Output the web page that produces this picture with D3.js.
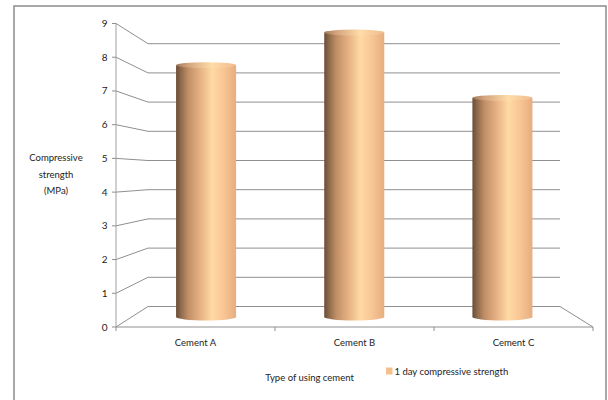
<!DOCTYPE html>
<html>
<head>
<meta charset="utf-8">
<script src="https://cdn.jsdelivr.net/npm/d3@7"></script>
<style>
  html, body { margin: 0; padding: 0; background: #fff; }
  svg { display: block; }
  text { font-family: Lato, "Open Sans", sans-serif; fill: #222; }
</style>
</head>
<body>
<svg id="chart" width="608" height="400"></svg>
<script>
// ---- data ----
const categories = ["Cement A", "Cement B", "Cement C"];
const strength1Day = [7.7, 8.7, 6.7];
const yTicks = [0, 1, 2, 3, 4, 5, 6, 7, 8, 9];
const seriesName = "1 day compressive strength";
const xTitle = "Type of using cement";
const yTitleLines = ["Compressive", "strength", "(MPa)"];

// ---- layout ----
const svg = d3.select("#chart");
const W = 608, H = 400;

// frame
svg.append("rect")
  .attr("x", 14).attr("y", 6).attr("width", 592).attr("height", 410)
  .attr("fill", "#fff").attr("stroke", "#8c8c8c").attr("stroke-width", 1.5);

// 3D box geometry
const frontX0 = 116, frontX1 = 593;
const backX0 = 148, backX1 = 560;
const yFront = d3.scaleLinear().domain([0, 9]).range([327, 23.5]);
const yBack  = d3.scaleLinear().domain([0, 9]).range([306.5, 43.7]);
const yMid   = d3.scaleLinear().domain([0, 9]).range([317, 22.7]);

const xFront = d3.scaleBand().domain(categories).range([frontX0, frontX1]);
const xMid = d3.scaleBand().domain(categories).range([(frontX0 + backX0) / 2, (frontX1 + backX1) / 2]);

// gradient for cylinders
const defs = svg.append("defs");
const grad = defs.append("linearGradient").attr("id", "cyl").attr("x1", "0").attr("x2", "1").attr("y1", "0").attr("y2", "0");
[[0, "#6b4c35"], [0.08, "#8e6a4c"], [0.2, "#c08e66"], [0.38, "#e3ad80"], [0.6, "#ffd9a3"], [0.78, "#f9c796"], [1, "#e7ad7e"]]
  .forEach(([o, c]) => grad.append("stop").attr("offset", o).attr("stop-color", c));
const gradTop = defs.append("linearGradient").attr("id", "cylTop").attr("x1", "0").attr("x2", "1").attr("y1", "0").attr("y2", "0");
[[0, "#a07a5a"], [0.2, "#d4a47c"], [0.6, "#ffdcaa"], [1, "#f0bb8c"]]
  .forEach(([o, c]) => gradTop.append("stop").attr("offset", o).attr("stop-color", c));

// gridlines: side wall + back wall
const grid = svg.append("g").attr("fill", "none").attr("stroke", "#8f8f8f").attr("stroke-width", 1);
yTicks.forEach(v => {
  grid.append("path")
    .attr("d", `M${frontX0},${yFront(v)}L${backX0},${yBack(v)}L${backX1},${yBack(v)}`);
});
// floor front edge and right edge
grid.append("path")
  .attr("d", `M${frontX0},${yFront(0)}L${frontX1},${yFront(0)}L${backX1},${yBack(0)}`);

// value axis
svg.append("line")
  .attr("x1", frontX0).attr("x2", frontX0)
  .attr("y1", yFront(0)).attr("y2", yFront(9))
  .attr("stroke", "#a0a0a0").attr("stroke-width", 1);
const yAx = svg.append("g");
yTicks.forEach(v => {
  yAx.append("line").attr("x1", frontX0 - 4).attr("x2", frontX0)
    .attr("y1", yFront(v)).attr("y2", yFront(v)).attr("stroke", "#8f8f8f");
  yAx.append("text").attr("x", 107.5).attr("y", yFront(v)).attr("dy", "0.35em")
    .attr("text-anchor", "end").attr("font-size", 10).text(v);
});

// category axis ticks and labels
const xTickPos = categories.map(c => xFront(c)).concat([frontX1]);
xTickPos.forEach(x => {
  svg.append("line").attr("x1", x).attr("x2", x)
    .attr("y1", yFront(0)).attr("y2", yFront(0) + 4).attr("stroke", "#8f8f8f");
});
categories.forEach(c => {
  svg.append("text").attr("x", xFront(c) + xFront.bandwidth() / 2).attr("y", 343)
    .attr("dy", "0.35em").attr("text-anchor", "middle").attr("font-size", 9.5).text(c);
});

// cylinders
const cylW = xMid.bandwidth() * 0.405;
const ryTop = 3, ryBot = 3.5;
const cyl = svg.append("g");
categories.forEach((c, i) => {
  const cx = xMid(c) + xMid.bandwidth() / 2;
  const x0 = cx - cylW / 2;
  const yt = yMid(strength1Day[i]);
  const yb = yMid(0);
  cyl.append("ellipse").attr("cx", cx).attr("cy", yb).attr("rx", cylW / 2).attr("ry", ryBot)
    .attr("fill", "url(#cyl)");
  cyl.append("rect").attr("x", x0).attr("y", yt).attr("width", cylW).attr("height", yb - yt)
    .attr("fill", "url(#cyl)");
  cyl.append("ellipse").attr("cx", cx).attr("cy", yt).attr("rx", cylW / 2).attr("ry", ryTop)
    .attr("fill", "url(#cylTop)");
});

// y title
yTitleLines.forEach((t, i) => {
  svg.append("text").attr("x", 56).attr("y", 158 + i * 16.5).attr("dy", "0.35em")
    .attr("text-anchor", "middle").attr("font-size", 9.5).text(t);
});

// x title
svg.append("text").attr("x", 309.5).attr("y", 378).attr("dy", "0.35em")
  .attr("text-anchor", "middle").attr("font-size", 9.5).text(xTitle);

// legend
svg.append("rect").attr("x", 386).attr("y", 367.5).attr("width", 6.5).attr("height", 7)
  .attr("fill", "#f8bf8e");
svg.append("text").attr("x", 394.5).attr("y", 371.5).attr("dy", "0.35em")
  .attr("font-size", 9.5).text(seriesName);
</script>
</body>
</html>
